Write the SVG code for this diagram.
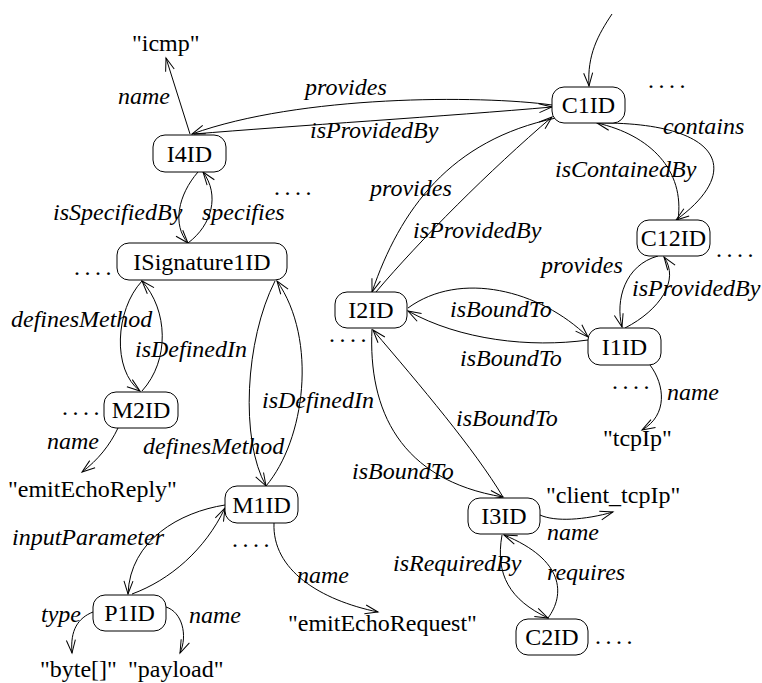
<svg xmlns="http://www.w3.org/2000/svg" width="762" height="683" viewBox="0 0 762 683">
<style>
text{font-family:"Liberation Serif","Times New Roman",serif;font-size:24px;fill:#000}
.n text{text-anchor:middle}
.n rect{fill:#fff;stroke:#000;stroke-width:1}
.l{font-style:italic}
.d{letter-spacing:4.5px}
#edges path{fill:none;stroke:#000;stroke-width:1;marker-end:url(#ah)}
</style>
<defs>
<marker id="ah" markerUnits="userSpaceOnUse" markerWidth="20" markerHeight="20" refX="0" refY="0" orient="auto" overflow="visible">
<path d="M-13,-4.5 L0,0 L-13,4.5" fill="none" stroke="#000" stroke-width="1"/>
</marker>
</defs>
<rect width="762" height="683" fill="#fff"/>
<g id="edges">
<path d="M612,14 C598,35 587,55 589,86"/>
<path d="M552,105 C480,95 300,95 192,134"/>
<path d="M194,134 C290,126 450,116 552,107"/>
<path d="M190,134 L166,58"/>
<path d="M198,172 C178,195 172,225 188,243"/>
<path d="M188,243 C212,225 220,195 203,172"/>
<path d="M142,281 C115,310 112,370 140,391"/>
<path d="M142,391 C170,360 168,310 142,281"/>
<path d="M275,281 C245,340 240,440 266,486"/>
<path d="M266,486 C305,440 318,340 277,281"/>
<path d="M118,428 C110,445 98,460 82,472"/>
<path d="M225,505 C180,512 130,540 128,594"/>
<path d="M132,594 C170,580 205,550 225,508"/>
<path d="M274,523 C272,570 320,600 378,612"/>
<path d="M93,612 C78,618 70,630 72,653"/>
<path d="M166,607 C182,612 188,635 180,653"/>
<path d="M556,118 C450,140 400,210 372,292"/>
<path d="M376,292 C420,240 490,170 552,117"/>
<path d="M598,123 C720,122 745,170 676,220"/>
<path d="M678,220 C685,170 650,135 597,123"/>
<path d="M658,256 C625,265 615,300 622,327"/>
<path d="M625,328 C660,310 680,280 664,257"/>
<path d="M408,308 C460,270 540,290 588,337"/>
<path d="M588,340 C530,348 460,340 408,311"/>
<path d="M372,329 C368,410 400,480 503,497"/>
<path d="M503,497 C475,450 420,385 373,330"/>
<path d="M540,515 C555,522 585,520 613,512"/>
<path d="M502,535 C495,575 510,600 548,618"/>
<path d="M548,618 C565,595 565,560 504,535"/>
<path d="M650,365 C665,385 668,415 642,430"/>
</g>
<g id="C1ID" class="n"><rect x="552" y="87" width="73" height="36" rx="12"/><text x="588.5" y="113">C1ID</text></g>
<g id="I4ID" class="n"><rect x="153" y="135" width="73" height="37" rx="12"/><text x="189.5" y="161.5">I4ID</text></g>
<g id="ISignature1ID" class="n"><rect x="117" y="243" width="170" height="37" rx="12"/><text x="202" y="270">ISignature1ID</text></g>
<g id="C12ID" class="n"><rect x="637" y="220" width="73" height="36" rx="12"/><text x="673.5" y="246">C12ID</text></g>
<g id="I2ID" class="n"><rect x="335" y="292" width="72" height="36" rx="12"/><text x="371" y="318">I2ID</text></g>
<g id="I1ID" class="n"><rect x="588" y="328" width="73" height="37" rx="12"/><text x="624.5" y="354.5">I1ID</text></g>
<g id="M2ID" class="n"><rect x="104" y="392" width="74" height="36" rx="12"/><text x="141" y="418">M2ID</text></g>
<g id="M1ID" class="n"><rect x="225" y="486" width="73" height="37" rx="12"/><text x="261.5" y="512.5">M1ID</text></g>
<g id="I3ID" class="n"><rect x="468" y="498" width="72" height="36" rx="12"/><text x="504" y="524">I3ID</text></g>
<g id="P1ID" class="n"><rect x="93" y="595" width="73" height="36" rx="12"/><text x="129.5" y="621">P1ID</text></g>
<g id="C2ID" class="n"><rect x="516" y="619" width="72" height="36" rx="12"/><text x="552" y="645">C2ID</text></g>
<g id="literals">
<text x="132" y="51">"icmp"</text>
<text x="8" y="497">"emitEchoReply"</text>
<text x="288" y="631">"emitEchoRequest"</text>
<text x="603" y="446">"tcpIp"</text>
<text x="546" y="503">"client_tcpIp"</text>
<text x="40" y="677">"byte[]"</text>
<text x="128" y="677">"payload"</text>
</g>
<g id="labels" class="l">
<text class="l" x="118" y="104">name</text>
<text class="l" x="305" y="95">provides</text>
<text class="l" x="310" y="138">isProvidedBy</text>
<text class="l" x="663" y="134">contains</text>
<text class="l" x="555" y="177">isContainedBy</text>
<text class="l" x="53" y="220">isSpecifiedBy</text>
<text class="l" x="202" y="220">specifies</text>
<text class="l" x="370" y="196">provides</text>
<text class="l" x="413" y="238">isProvidedBy</text>
<text class="l" x="541" y="273">provides</text>
<text class="l" x="632" y="296">isProvidedBy</text>
<text class="l" x="450" y="317">isBoundTo</text>
<text class="l" x="460" y="366">isBoundTo</text>
<text class="l" x="456" y="426">isBoundTo</text>
<text class="l" x="352" y="479">isBoundTo</text>
<text class="l" x="11" y="327">definesMethod</text>
<text class="l" x="135" y="357">isDefinedIn</text>
<text class="l" x="262" y="408">isDefinedIn</text>
<text class="l" x="143" y="454">definesMethod</text>
<text class="l" x="47" y="449">name</text>
<text class="l" x="667" y="400">name</text>
<text class="l" x="547" y="540">name</text>
<text class="l" x="12" y="545">inputParameter</text>
<text class="l" x="393" y="571">isRequiredBy</text>
<text class="l" x="547" y="580">requires</text>
<text class="l" x="297" y="583">name</text>
<text class="l" x="41" y="622">type</text>
<text class="l" x="189" y="623">name</text>
</g>
<g id="ellipses">
<text class="d" x="648" y="88">....</text>
<text class="d" x="274" y="195">....</text>
<text class="d" x="74" y="275">....</text>
<text class="d" x="716" y="257">....</text>
<text class="d" x="329" y="342">....</text>
<text class="d" x="612" y="389">....</text>
<text class="d" x="62" y="415">....</text>
<text class="d" x="232" y="547">....</text>
<text class="d" x="595" y="644">....</text>
</g>
</svg>
